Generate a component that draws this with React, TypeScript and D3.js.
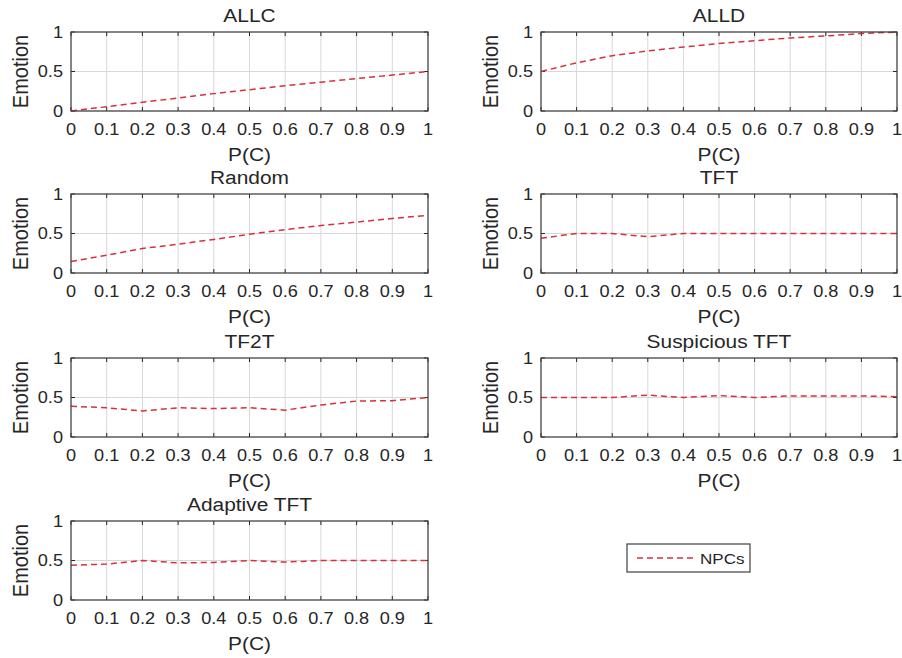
import React from "react";
import * as d3 from "d3";

const pc = [0, 0.1, 0.2, 0.3, 0.4, 0.5, 0.6, 0.7, 0.8, 0.9, 1];
const xTicks = [0, 0.1, 0.2, 0.3, 0.4, 0.5, 0.6, 0.7, 0.8, 0.9, 1];
const yTicks = [0, 0.5, 1];

const titles = ["ALLC", "ALLD", "Random", "TFT", "TF2T", "Suspicious TFT", "Adaptive TFT"];

const allc = [0, 0.055, 0.11, 0.165, 0.22, 0.27, 0.32, 0.365, 0.41, 0.455, 0.5];
const alld = [0.5, 0.61, 0.7, 0.76, 0.81, 0.855, 0.89, 0.925, 0.95, 0.98, 1];
const random = [0.145, 0.225, 0.31, 0.365, 0.425, 0.49, 0.55, 0.6, 0.645, 0.69, 0.73];
const tft = [0.44, 0.5, 0.5, 0.46, 0.5, 0.5, 0.5, 0.5, 0.5, 0.5, 0.5];
const tf2t = [0.39, 0.37, 0.33, 0.37, 0.36, 0.37, 0.34, 0.405, 0.455, 0.46, 0.5];
const suspTft = [0.5, 0.5, 0.5, 0.53, 0.5, 0.525, 0.5, 0.52, 0.52, 0.52, 0.51];
const adaptTft = [0.44, 0.455, 0.5, 0.47, 0.475, 0.5, 0.48, 0.5, 0.5, 0.5, 0.5];

const series = [allc, alld, random, tft, tf2t, suspTft, adaptTft];
const legendLabel = "NPCs";

const W = 902;
const H = 658;
const colX = [[71, 428], [541, 897]];
const rowY = [32, 194, 358, 521];
const ph = 79;
const red = "#d8303a";
const ink = "#262626";
const font = "Liberation Sans, Arial, sans-serif";

// text is a bit wider than normal in the source image
function T({ x, y, size, anchor = "middle", rot = 0, children }: any) {
  return (
    <text
      transform={`translate(${x},${y}) rotate(${rot}) scale(${rot ? 1 : 1.1},${rot ? 1.1 : 1})`}
      fontSize={size}
      fontFamily={font}
      fill={ink}
      textAnchor={anchor}
      dominantBaseline="central"
    >
      {children}
    </text>
  );
}

function Panel({ i }: { i: number }) {
  const [x0, x1] = colX[i % 2];
  const top = rowY[Math.floor(i / 2)];
  const x = d3.scaleLinear().domain([0, 1]).range([x0, x1]);
  const y = d3.scaleLinear().domain([0, 1]).range([top + ph, top]);
  const line = d3
    .line<number>()
    .x((d, j) => x(pc[j]))
    .y(d => y(d));
  return (
    <g>
      {xTicks.map(t => (
        <line key={"gx" + t} x1={x(t)} x2={x(t)} y1={y(0)} y2={y(1)} stroke="#d8d8d8" strokeWidth={1} />
      ))}
      {yTicks.map(t => (
        <line key={"gy" + t} x1={x0} x2={x1} y1={y(t)} y2={y(t)} stroke="#d8d8d8" strokeWidth={1} />
      ))}
      {xTicks.map(t => (
        <g key={"tx" + t}>
          <line x1={x(t)} x2={x(t)} y1={y(0)} y2={y(0) - 4} stroke={ink} />
          <line x1={x(t)} x2={x(t)} y1={y(1)} y2={y(1) + 4} stroke={ink} />
          <T x={x(t)} y={y(0) + 18} size={16.5}>{String(t)}</T>
        </g>
      ))}
      {yTicks.map(t => (
        <g key={"ty" + t}>
          <line x1={x0} x2={x0 + 4} y1={y(t)} y2={y(t)} stroke={ink} />
          <line x1={x1} x2={x1 - 4} y1={y(t)} y2={y(t)} stroke={ink} />
          <T x={x0 - 8} y={y(t)} size={16.5} anchor="end">{String(t)}</T>
        </g>
      ))}
      <path d={line(series[i]) || ""} fill="none" stroke={red} strokeWidth={1.5} strokeDasharray="6,4" />
      <rect x={x0} y={top} width={x1 - x0} height={ph} fill="none" stroke="#404040" strokeWidth={1.2} />
      <T x={(x0 + x1) / 2} y={top - 17} size={19}>{titles[i]}</T>
      <T x={(x0 + x1) / 2} y={top + ph + 43} size={19}>P(C)</T>
      <T x={x0 - 51} y={top + ph / 2} size={20} rot={-90}>Emotion</T>
    </g>
  );
}

export default function App() {
  return (
    <svg width={W} height={H} style={{ position: "absolute", left: 0, top: 0, background: "#fff" }}>
      {series.map((s, i) => (
        <Panel key={titles[i]} i={i} />
      ))}
      <g>
        <rect x={627} y={544} width={123} height={28} fill="#fff" stroke="#404040" strokeWidth={1.2} />
        <line x1={637} x2={694} y1={558} y2={558} stroke={red} strokeWidth={1.5} strokeDasharray="6,4" />
        <T x={700} y={558} size={15.5} anchor="start">{legendLabel}</T>
      </g>
    </svg>
  );
}
